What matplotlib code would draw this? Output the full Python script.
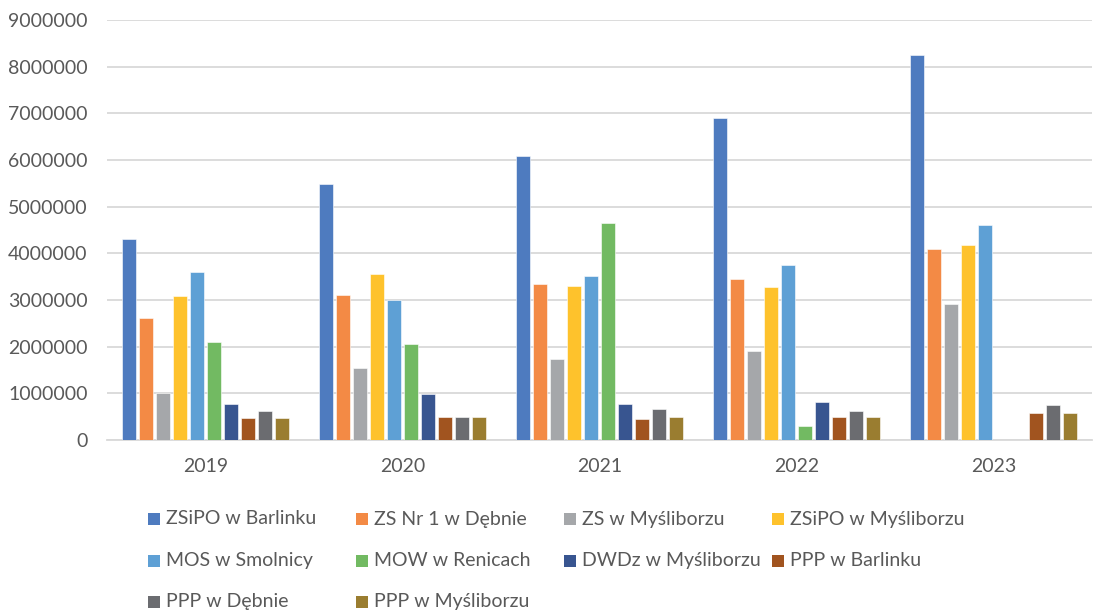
import matplotlib.pyplot as plt
import numpy as np
from matplotlib.patches import Rectangle

# Values (PLN)
YEARS = ['2019', '2020', '2021', '2022', '2023']
SERIES = [
    'ZSiPO w Barlinku', 'ZS Nr 1 w Dębnie', 'ZS w Myśliborzu', 'ZSiPO w Myśliborzu',
    'MOS w Smolnicy', 'MOW w Renicach', 'DWDz w Myśliborzu', 'PPP w Barlinku',
    'PPP w Dębnie', 'PPP w Myśliborzu',
]
zsipo_barlinek = [4300000, 5480000, 6090000, 6890000, 8260000]
zs_debno = [2610000, 3100000, 3350000, 3440000, 4100000]
zs_mysliborz = [1000000, 1540000, 1740000, 1900000, 2920000]
zsipo_mysliborz = [3080000, 3560000, 3300000, 3280000, 4170000]
mos_smolnica = [3590000, 2990000, 3510000, 3740000, 4610000]
mow_renice = [2100000, 2060000, 4640000, 290000, 0]
dwdz_mysliborz = [770000, 980000, 770000, 810000, 0]
ppp_barlinek = [470000, 490000, 460000, 490000, 570000]
ppp_debno = [620000, 490000, 670000, 620000, 740000]
ppp_mysliborz = [470000, 490000, 490000, 490000, 570000]

VALUES = [zsipo_barlinek, zs_debno, zs_mysliborz, zsipo_mysliborz, mos_smolnica,
          mow_renice, dwdz_mysliborz, ppp_barlinek, ppp_debno, ppp_mysliborz]
COLORS = ['#4E7BBF', '#F38A45', '#A5A7AA', '#FEC22C', '#5EA0D5',
          '#72BA62', '#385590', '#A1541F', '#6B6C70', '#9A7D30']

W, H = 1095, 613
TEXT = '#595959'
GRID = '#D9D9D9'
plt.rcParams['font.family'] = ['Lato', 'DejaVu Sans']

fig = plt.figure(figsize=(W / 100, H / 100), dpi=100)
ax = fig.add_axes([107 / W, 1 - 440 / H, (1092 - 107) / W, (440 - 20) / H])

x = np.arange(len(YEARS))
slot = 0.0863
bar_w = 0.0675
n = len(SERIES)
for i, (vals, col) in enumerate(zip(VALUES, COLORS)):
    offs = (i - (n - 1) / 2) * slot
    ax.bar(x + offs, vals, width=bar_w, color=col, edgecolor='white',
           linewidth=0.4, zorder=3)

ax.set_xlim(-0.5, len(YEARS) - 0.5)
ax.set_ylim(0, 9000000)
ax.set_yticks(np.arange(0, 9000001, 1000000))
ax.set_yticklabels([str(v) for v in range(0, 9000001, 1000000)])
ax.set_xticks(x)
ax.set_xticklabels(YEARS)
ax.tick_params(axis='y', length=0, pad=14, labelsize=14, labelcolor=TEXT)
ax.tick_params(axis='x', length=0, pad=13, labelsize=14, labelcolor=TEXT)
ax.grid(axis='y', color=GRID, linewidth=1.3, zorder=0)
for side in ['left', 'right', 'top']:
    ax.spines[side].set_visible(False)
ax.spines['bottom'].set_color(GRID)
ax.spines['bottom'].set_linewidth(1.3)

# Legend, row-major in 4 columns, placed in pixel positions
for i, (name, col) in enumerate(zip(SERIES, COLORS)):
    r, c = divmod(i, 4)
    mx = 148 + 208 * c
    my = 519 + 41.5 * r
    fig.add_artist(Rectangle((mx / W, 1 - (my + 6) / H), 12 / W, 12 / H,
                             transform=fig.transFigure, facecolor=col,
                             edgecolor='none'))
    fig.text((mx + 18) / W, 1 - my / H, name, fontsize=14, color=TEXT,
             ha='left', va='center')

fig.savefig('out.png', dpi=100)
